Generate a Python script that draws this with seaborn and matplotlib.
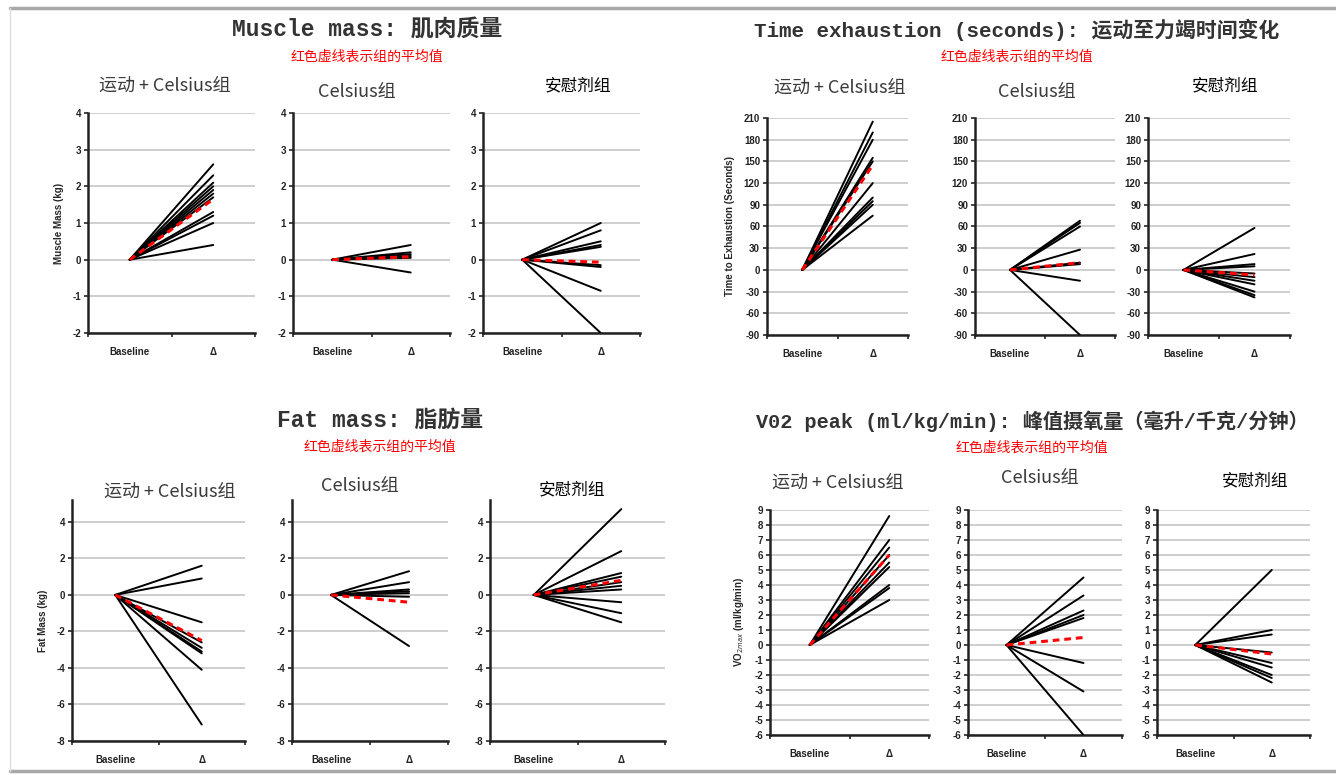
import numpy as np
import pandas as pd
import seaborn as sns
import matplotlib.pyplot as plt
from matplotlib.lines import Line2D
from matplotlib.ticker import FixedLocator

# --- data ---

time_points = ["Baseline", "Δ"]
group_titles = ["运动 + Celsius组", "Celsius组", "安慰剂组"]
subtitle = "红色虚线表示组的平均值"
baseline = 0.0

muscle_ex = [2.6, 2.3, 2.1, 2.0, 1.9, 1.8, 1.7, 1.3, 1.2, 1.0, 0.4]
muscle_cel = [0.4, 0.2, 0.15, 0.1, 0.05, -0.35]
muscle_pla = [1.0, 0.8, 0.5, 0.4, 0.35, -0.15, -0.2, -0.85, -2.0]
muscle_means = [1.65, 0.08, -0.07]

time_ex = [205, 190, 180, 155, 150, 120, 100, 95, 90, 75]
time_cel = [68, 65, 60, 28, 10, 8, -15, -90]
time_pla = [58, 22, 8, 5, -5, -10, -15, -20, -30, -35, -38]
time_means = [145, 10, -7]

fat_ex = [1.6, 0.9, -1.5, -2.6, -2.9, -3.1, -3.2, -4.1, -7.1]
fat_cel = [1.3, 0.7, 0.3, 0.2, 0.1, -0.1, -2.8]
fat_pla = [4.7, 2.4, 1.2, 1.0, 0.7, 0.5, 0.3, -0.4, -1.0, -1.5]
fat_means = [-2.5, -0.4, 0.8]

vo2_ex = [8.6, 7.0, 6.5, 6.0, 5.5, 5.2, 4.0, 3.8, 3.0]
vo2_cel = [4.5, 3.3, 2.3, 2.0, 1.8, -1.2, -3.1, -6.0]
vo2_pla = [5.0, 1.0, 0.7, -0.5, -1.2, -1.5, -2.0, -2.2, -2.5]
vo2_means = [6.0, 0.5, -0.6]

sns.set_style("white")
plt.rcParams["font.family"] = ["Liberation Sans", "Noto Sans CJK SC"]
plt.rcParams["axes.unicode_minus"] = False

W, H = 1336, 775
fig = plt.figure(figsize=(W / 100, H / 100), dpi=100)


def rect(x0, x1, ytop, ybot):
    return [x0 / W, 1 - ybot / H, (x1 - x0) / W, (ybot - ytop) / H]


def long_df(values):
    rows = []
    for i, v in enumerate(values):
        rows.append({"id": i, "time": time_points[0], "value": baseline})
        rows.append({"id": i, "time": time_points[1], "value": v})
    return pd.DataFrame(rows)


def panel(box, values, mean, ylim, yticks, ylabel=None):
    ax = fig.add_axes(box)
    sns.lineplot(data=long_df(values), x="time", y="value", units="id",
                 estimator=None, color="black", lw=1.4, ax=ax, zorder=3)
    mean_df = pd.DataFrame({"time": time_points, "value": [baseline, mean]})
    sns.lineplot(data=mean_df, x="time", y="value", color="red", lw=2.2,
                 ax=ax, zorder=4, linestyle=(0, (2.2, 1.6)))
    ax.set_xlim(-0.5, 1.5)
    ax.set_ylim(*ylim)
    ax.set_yticks(yticks)
    ax.yaxis.grid(True, color="#cacaca", lw=1.3)
    ax.set_axisbelow(True)
    for s in ["top", "right"]:
        ax.spines[s].set_visible(False)
    for s in ["left", "bottom"]:
        ax.spines[s].set_color("#222222")
        ax.spines[s].set_linewidth(1.8)
    ax.tick_params(axis="y", direction="out", length=3, width=1.2,
                   labelsize=7, left=True, pad=2)
    ax.tick_params(axis="x", which="major", length=0, labelsize=7, pad=10)
    ax.xaxis.set_minor_locator(FixedLocator([-0.5, 0.5, 1.5]))
    ax.tick_params(axis="x", which="minor", direction="out", length=3,
                   width=1.2, bottom=True)
    for lab in ax.get_xticklabels() + ax.get_yticklabels():
        lab.set_fontweight("bold")
        lab.set_color("#222222")
    ax.set_xlabel("")
    if ylabel:
        ax.set_ylabel(ylabel, fontsize=7, fontweight="bold", labelpad=6)
    else:
        ax.set_ylabel("")
    return ax


def block(cx, ty, title, fsize, xs, ytop, ybot, groups, means, ylim, yticks,
          ylabel, gtitle_pos):
    fig.text(cx / W, 1 - ty / H, title, ha="center", va="center",
             fontsize=fsize, color="#333333", fontweight="bold",
             family=["Liberation Mono", "Noto Sans CJK SC"])
    fig.text(cx / W, 1 - (ty + 27) / H, subtitle, ha="center", va="center",
             fontsize=10, color="red", family=["Noto Sans CJK SC"])
    for k, (x0, x1) in enumerate(xs):
        panel(rect(x0, x1, ytop, ybot), groups[k], means[k], ylim, yticks,
              ylabel if k == 0 else None)
        gx, gy = gtitle_pos[k]
        fig.text(gx / W, 1 - gy / H, group_titles[k], ha="center",
                 va="center", fontsize=13 if k < 2 else 12,
                 color="black" if k == 2 else "#3a3a3a",
                 family=["Noto Sans CJK SC", "DejaVu Sans"])


block(367, 30, "Muscle mass: 肌肉质量", 16.5,
      [(88, 255), (293, 450), (483, 640)], 113, 333,
      [muscle_ex, muscle_cel, muscle_pla], muscle_means,
      (-2, 4), np.arange(-2, 5, 1), "Muscle Mass (kg)",
      [(165, 86), (357, 92), (578, 86)])

block(1017, 30, "Time exhaustion (seconds): 运动至力竭时间变化", 15,
      [(767, 908), (975, 1115), (1148, 1290)], 118, 335,
      [time_ex, time_cel, time_pla], time_means,
      (-90, 210), np.arange(-90, 211, 30), "Time to Exhaustion (Seconds)",
      [(840, 88), (1037, 92), (1225, 86)])

block(380, 420, "Fat mass: 脂肪量", 16.5,
      [(72, 245), (292, 448), (490, 665)], 500, 741,
      [fat_ex, fat_cel, fat_pla], fat_means,
      (-8, 5.2), np.arange(-8, 5, 2), "Fat Mass (kg)",
      [(170, 492), (360, 486), (572, 490)])

block(1032, 421, "V02 peak (ml/kg/min): 峰值摄氧量（毫升/千克/分钟）", 14.5,
      [(770, 929), (968, 1122), (1157, 1310)], 510, 735,
      [vo2_ex, vo2_cel, vo2_pla], vo2_means,
      (-6, 9), np.arange(-6, 10, 1), "VO$_{2max}$ (ml/kg/min)",
      [(838, 483), (1040, 478), (1255, 481)])

# page frame lines
for yy in [8, 771]:
    fig.add_artist(Line2D([10 / W, 1], [1 - yy / H, 1 - yy / H],
                          color="#a8a8a8", lw=2.5))
fig.add_artist(Line2D([10 / W, 10 / W], [1 - 8 / H, 1 - 771 / H],
                      color="#dddddd", lw=1))

fig.savefig("out.png", dpi=100)
